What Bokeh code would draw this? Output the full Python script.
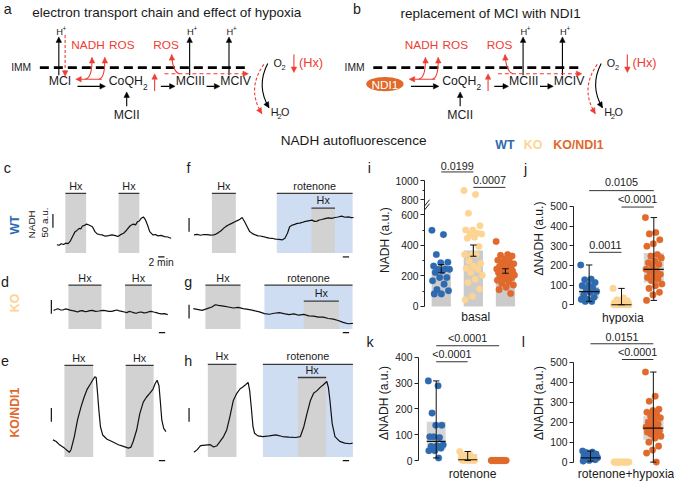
import math
import numpy as np
from bokeh.plotting import figure
from bokeh.layouts import column, row
from bokeh.models import Range1d, Arrow, NormalHead, FixedTicker
from bokeh.core.properties import value
from bokeh.embed import file_html
from bokeh.resources import INLINE

# ------------------------------------------------------------------ data
groups = ["WT", "KO", "KO/NDI1"]

# NADH autofluorescence traces: time (min) and NADH (a.u., relative to start)
c_time = [0, 0.7, 1.4, 2.1, 2.9, 3.6, 4.2, 5.0, 5.8, 6.4, 7.1, 7.6, 8.1, 8.8, 9.4, 10.2, 11.3, 12.1, 12.8, 13.6,
          14.4, 15.4, 16.5, 17.5, 18.6, 19.4, 20.1, 21.2, 22.2, 23.3, 24.3, 25.0, 25.6, 26.2, 26.7, 27.5, 28.1,
          28.8, 29.5, 30.5, 31.3, 32.1, 33.1, 34.2, 35.2, 36.3]
c_nadh = [0, -2, 3.6, 1, 5.7, 4, 11.8, 29.6, 47.5, 52, 59.3, 57, 67.9, 70, 75, 71.4, 65.4, 47.5, 39.3, 37,
          35.7, 31, 33.2, 36, 33.2, 30, 35.7, 41.4, 53.6, 68.9, 75, 72, 83.2, 86, 95, 101, 91.4, 71.4, 47.5,
          35.7, 37, 32.1, 34, 29.6, 28, 23.6]
c_hx = [[2.7, 9.3], [19.6, 26.2]]

f_time = [0, 1.0, 2.1, 3.1, 4.2, 5.2, 6.25, 7.0, 7.8, 8.6, 9.4, 10.1, 10.9, 12.0, 13.0, 14.1, 14.7, 15.3, 16.1,
          16.9, 17.7, 18.75, 19.5, 20.3, 21.1, 21.9, 22.9, 23.9, 25.0, 26.0, 27.0, 28.1, 28.9, 29.7, 30.4, 31.25,
          32.0, 32.8, 33.6, 34.4, 35.1, 35.9, 36.7, 37.5, 38.3, 39.1, 39.8, 40.6, 41.6, 42.7, 43.7, 44.8, 45.8,
          46.9, 48.0, 49.0, 50.0, 50.7]
f_nadh = [0, 2, -1.2, 1.5, 1.2, -1, 0, 3, 8.3, 15, 23.8, 30, 35.7, 41.7, 47.6, 53.6, 58, 63.1, 47.6, 29.8,
          11.9, 3.6, 0, -3.6, -4, -6, -9, -11.9, -13, -15.5, -16, -17.9, -11.9, 6, 29.8, 35.7, 38, 41.7, 43,
          45.2, 48, 50, 52, 53.6, 49, 50, 54, 56, 59, 61.9, 60, 63.1, 65, 67.9, 64, 65.5, 63, 63.1]
f_hx = [[5.7, 13.3]]
f_rot = [26.3, 50.4]
f_rot_hx = [37.3, 44.8]

d_time = [0, 0.7, 1.35, 2.1, 2.9, 3.7, 4.5, 5.2, 6.0, 6.8, 7.6, 8.4, 9.2, 10.0, 10.7, 11.5, 12.3, 13.3, 14.4,
          15.5, 16.5, 17.5, 18.5, 19.3, 20.1, 20.9, 21.7, 22.5, 23.2, 24.0, 24.8, 25.6, 26.3, 27.1, 27.9, 28.7,
          29.5, 30.3, 31.0, 31.8, 32.6, 33.4, 34.2, 35.2, 36.25]
d_nadh = [0, 3, 6, 2, 1.2, 5, 3.6, 1, -1.2, -3, -6, -2, -1.2, -5, -3.6, -1, 0, -4, -2.4, 0, -1.2, -4, -3.6,
          -1, 1.2, -2, -3.6, -6, -8.3, -4, -6, -9, -10.7, -7, -6, -9, -8.3, -5, -3.6, -6, -8.3, -11, -13.1,
          -12, -15.5]
d_hx = [[4.7, 15.2], [22.7, 31.2]]

g_time = [0, 1.25, 2.8, 4.4, 5.9, 7.0, 8.0, 9.6, 11.2, 12.7, 14.3, 15.8, 17.4, 19.0, 21.0, 22.6, 24.2, 25.7,
          27.3, 28.8, 30.4, 32.0, 33.5, 35.1, 36.7, 38.2, 39.8, 41.3, 42.9, 44.5, 46.0, 47.6, 49.2, 50.7]
g_nadh = [0, -2.4, -6, 0, 6, 14.3, 11.9, 9.5, 6, 2.4, 4.8, 0, -2.4, -6, -11.9, -17.9, -20.2, -16.7, -14.3,
          -17.9, -21.4, -19, -23.8, -21, -26.2, -27.4, -31, -31, -35.7, -38.1, -42.9, -50, -54.8, -53.6]
g_hx = [[3.85, 15.0]]
g_rot = [22.6, 50.6]
g_rot_hx = [35.1, 46.25]

e_time = [0, 1.04, 2.1, 3.65, 5.2, 5.75, 6.8, 7.8, 8.9, 9.9, 10.9, 12.0, 12.8, 13.3, 13.75, 14.2, 14.6, 15.1,
          15.8, 17.2, 18.75, 20.8, 22.4, 24.0, 24.8, 25.5, 26.6, 27.6, 28.7, 29.7, 30.75, 31.8, 32.5, 33.1,
          33.7, 34.1, 34.6, 35.2, 35.9]
e_nadh = [0, -6, -17.9, -29.8, -45.2, -35.7, 11.9, 71.4, 119, 154.8, 184.5, 204.8, 220.2, 228.6, 226.2,
          166.7, 107.1, 47.6, 17.9, 2.4, -6, -17.9, -23.8, -29.8, -26.2, -6, 35.7, 95.2, 136.9, 154.8, 169,
          184.5, 204.8, 216.7, 196.4, 142.9, 71.4, 41.7, 29.8]
e_hx = [[3.65, 12.8], [23.1, 32.0]]

h_time = [0, 1.04, 2.1, 3.6, 5.2, 6.25, 7.3, 8.3, 9.4, 10.4, 11.4, 12.5, 13.5, 14.6, 15.6, 16.4, 17.2, 17.7,
          18.2, 18.75, 19.25, 20.3, 21.9, 23.9, 26.0, 28.1, 30.2, 32.3, 33.8, 34.9, 35.9, 37.0, 38.0, 39.1,
          40.1, 41.1, 42.2, 42.7, 43.2, 43.9, 44.8, 46.3, 47.9, 49.5, 50.4]
h_nadh = [0, 9.5, 23.8, 26.2, 27.4, 19, 23.8, 39.3, 57.1, 81, 128.6, 188.1, 211.9, 229.8, 238.1, 245.2,
          253.6, 223.8, 164.3, 92.9, 69, 59.5, 57.1, 59.5, 63.1, 57.1, 54.8, 53.6, 57.1, 92.9, 140.5, 188.1,
          214.3, 223.8, 235.7, 245.2, 257.1, 235.7, 188.1, 104.8, 57.1, 39.3, 33.3, 31, 33.3]
h_hx = [[4.4, 13.5]]
h_rot = [21.9, 50.5]
h_rot_hx = [33.0, 42.0]

SCALE_AU = 50    # vertical scale bar (a.u.)
SCALE_MIN = 2    # horizontal scale bar (min)

# i: basal NADH (a.u.)
basal_wt = [499, 471, 340, 290, 286, 265, 247, 243, 243, 232, 222, 189, 189, 168, 146, 110, 103, 82, 82]
basal_ko = [895, 853, 622, 529, 501, 501, 480, 475, 475, 454, 447, 393, 340, 340, 340, 297, 282, 265, 249,
            243, 222, 204, 178, 157, 114, 67, 43]
basal_ndi1 = [426, 340, 335, 330, 310, 303, 295, 290, 280, 270, 262, 258, 250, 245, 240, 238, 232, 228, 222,
              218, 212, 205, 200, 195, 188, 180, 172, 160, 150, 140, 125, 110, 85]
basal_mean = [248, 366, 232]
basal_sem = [27, 37, 15]
basal_ticks = [0, 200, 400, 600, 800, 1000]
# broken axis: real value -> drawn position
break_real = [0, 600, 800, 1000]
break_drawn = [0, 600, 701, 824]

# j: hypoxia dNADH
hyp_wt = [202, 130, 127, 113, 100, 97, 88, 80, 67, 63, 50, 38, 27, 27, 17, 17]
hyp_ko = [83, 35, 25, 20, 15, 10, 5, 2, 0, 0, 0, 0, 0, 0, 0, 0, 0, 0]
hyp_ndi1 = [443, 367, 360, 330, 310, 297, 255, 247, 238, 222, 213, 205, 197, 180, 172, 167, 155, 143, 138,
            130, 122, 105, 97, 83, 63, 50, 22]
hyp_q1 = [33, 0, 113]
hyp_med = [67, 0, 180]
hyp_q3 = [93, 22, 263]
hyp_lo = [17, 0, 22]
hyp_hi = [202, 83, 443]

# k: rotenone dNADH
rot_wt = [309, 290, 184, 137, 137, 92, 89, 92, 61, 57, 55, 48, 38, 38, 10]
rot_ko = [35, 25, 20, 12, 8, 5, 3, 0, 0, 0, 0, 0]
rot_ndi1 = [0] * 16
rot_q1 = [42, 0, 0]
rot_med = [74, 3, 0]
rot_q3 = [150, 25, 0]
rot_lo = [10, 0, 0]
rot_hi = [309, 35, 0]

# l: rotenone + hypoxia dNADH
rh_wt = [55, 50, 48, 40, 35, 30, 28, 25, 22, 20, 15, 12, 8, 5]
rh_ko = [0] * 16
rh_ndi1 = [451, 330, 305, 265, 258, 250, 240, 230, 222, 210, 200, 190, 180, 175, 170, 165, 160, 155, 150,
           145, 140, 130, 120, 100, 80, 60, 45, 0]
rh_q1 = [10, 0, 112]
rh_med = [21, 0, 170]
rh_q3 = [38, 0, 230]
rh_lo = [5, 0, 0]
rh_hi = [55, 0, 451]

# ------------------------------------------------------------------ style
S = 0.9836
FONT = "Liberation Sans"
WT_C = "#2E6AB0"
KO_C = "#FDD491"
NDI_C = "#E0692B"
RED = "#EE3D33"
GREY = "#D2D2D2"
BLUE_BG = "#CFDDF3"
INK = "#1a1a1a"
colors = [WT_C, KO_C, NDI_C]


def fs(px):
    return f"{px * S:.1f}px"


def base_fig(w, h, xr, yr):
    p = figure(width=w, height=h, x_range=xr, y_range=yr, output_backend="svg", toolbar_location=None,
               x_axis_location=None, y_axis_location=None, min_border=0, min_border_left=0,
               min_border_right=0, min_border_top=0, min_border_bottom=0)
    for g in p.grid:
        g.visible = False
    p.outline_line_color = None
    return p


def T(p, x, y, s, size, color=INK, align="center", baseline="middle", angle=0.0, bold=False):
    p.text(x=[x], y=[y], text=[s], text_font=value(FONT), text_font_size=fs(size), text_color=color,
           text_align=align, text_baseline=baseline, angle=angle,
           text_font_style="bold" if bold else "normal")


def arrow(p, x0, y0, x1, y1, color="black", dash="solid", lw=1.1, head=5.5, alpha=1.0):
    p.add_layout(Arrow(end=NormalHead(size=head, fill_color=color, line_color=color, line_width=0.5),
                       x_start=x0, y_start=y0, x_end=x1, y_end=y1, line_color=color, line_width=lw,
                       line_dash=dash, line_alpha=alpha))


def curve_arrow(p, x0, y0, cx, cy, x1, y1, color="black", dash="solid", lw=1.1, head=5.5):
    p.quadratic(x0=[x0], y0=[y0], x1=[x1], y1=[y1], cx=[cx], cy=[cy], line_color=color, line_width=lw,
                line_dash=dash)
    ux, uy = x1 - cx, y1 - cy
    L = math.hypot(ux, uy)
    arrow(p, x1 - ux / L * 0.6, y1 - uy / L * 0.6, x1, y1, color, head=head, alpha=0.0)


# ------------------------------------------------------------------ top diagram (a, b)
W_ALL = 674
H_TOP = 152
top = base_fig(W_ALL, H_TOP, Range1d(0, W_ALL / S), Range1d(H_TOP / S, 0))


def hplus(p, x, y):
    T(p, x, y, "H", 9.5)
    T(p, x + 5, y - 3, "+", 6.5)


def chain(p, dx, ndi1):
    T(p, 21 + dx, 68, "IMM", 10.5)
    p.segment(x0=[40 + dx], x1=[253.3 + dx], y0=[68.3], y1=[68.3], line_color="black", line_width=2.8 * S,
              line_dash="9 5")
    if ndi1:
        p.ellipse(x=[390.8], y=[85], width=[38], height=[14.5], fill_color=NDI_C, line_color=None)
        T(p, 390.8, 85.5, "NDI1", 12, color="white")
    else:
        T(p, 60.5 + dx, 82, "MCI", 12.5)
        arrow(p, 59.3 + dx, 76, 59.3 + dx, 37)
        hplus(p, 60 + dx, 31.7)
        arrow(p, 65.7 + dx, 35, 65.7 + dx, 77, RED, dash="3 2")
    # NADH / ROS from the first entry site
    arrow(p, 103 + dx, 80, 76.5 + dx, 80, RED)
    curve_arrow(p, 86 + dx, 80, 93.5 + dx, 79, 93 + dx, 58, RED)
    curve_arrow(p, 100 + dx, 80, 106.5 + dx, 79, 106 + dx, 58, RED)
    T(p, 89 + dx, 45, "NADH", 12, color=RED)
    T(p, 123.3 + dx, 45, "ROS", 12, color=RED)
    # CoQH2
    arrow(p, 78.3 + dx, 87.3, 106.7 + dx, 87.3)
    T(p, 110 + dx, 82, "CoQH", 12.5, align="left")
    T(p, 147.3 + dx, 88, "2", 8.5)
    T(p, 128.3 + dx, 116.7, "MCII", 12.5)
    arrow(p, 128.3 + dx, 107.5, 128.3 + dx, 93)
    arrow(p, 156.7 + dx, 92, 156.7 + dx, 74.5, RED)
    arrow(p, 163 + dx, 87.3, 177.5 + dx, 87.3)
    # complex III / IV
    T(p, 193 + dx, 82, "MCIII", 12.5)
    arrow(p, 192.3 + dx, 76, 192.3 + dx, 37)
    hplus(p, 193 + dx, 31.7)
    arrow(p, 209.5 + dx, 87.3, 223 + dx, 87.3)
    T(p, 239 + dx, 82, "MCIV", 12.5)
    arrow(p, 232.3 + dx, 76, 232.3 + dx, 37)
    hplus(p, 233.3 + dx, 31.7)
    T(p, 168.3 + dx, 45, "ROS", 12, color=RED)
    curve_arrow(p, 182 + dx, 74.5, 175 + dx, 72.5, 174 + dx, 55, RED)
    arrow(p, 166.7 + dx, 74.5, 252 + dx, 74.5, RED, dash="4 3")
    # oxygen
    T(p, 281.7 + dx, 63.3, "O", 11)
    T(p, 287.8 + dx, 68.5, "2", 7.5)
    arrow(p, 298.3 + dx, 55, 298.3 + dx, 73.3, RED)
    T(p, 315.7 + dx, 63.3, "(Hx)", 13, color=RED)
    curve_arrow(p, 271.7 + dx, 64, 259.7 + dx, 87, 273 + dx, 109)
    curve_arrow(p, 267.7 + dx, 65, 250 + dx, 90, 265.7 + dx, 115, RED, dash="3 2")
    T(p, 278.7 + dx, 113.3, "H", 11)
    T(p, 283.8 + dx, 117.5, "2", 7.5)
    T(p, 289.5 + dx, 113.3, "O", 11)


T(top, 3.3, 8.3, "a", 14.5, align="left", baseline="alphabetic")
T(top, 169, 12.7, "electron transport chain and effect of hypoxia", 13.75)
chain(top, 0, False)
T(top, 358.3, 8.3, "b", 14.5, align="left", baseline="alphabetic")
T(top, 498.3, 13, "replacement of MCI with NDI1", 13.75)
chain(top, 339, True)
T(top, 359, 142.7, "NADH autofluorescence", 13.8)
T(top, 503, 146.7, groups[0], 12.6, color=WT_C, align="left", bold=True)
T(top, 532, 146.7, groups[1], 12.6, color=KO_C, align="left", bold=True)
T(top, 562, 146.7, groups[2], 12.6, color=NDI_C, align="left", bold=True)

# ------------------------------------------------------------------ traces c-h
PX_MIN = 3.2    # reference px per minute
PX_AU = 0.28    # reference px per a.u.


def trace_panel(w, h, x0r, y0r, ox, oy):
    x1r = x0r + w / S
    y1r = y0r + h / S
    p = base_fig(w, h, Range1d((x0r - ox) / PX_MIN, (x1r - ox) / PX_MIN),
                 Range1d((oy - y1r) / PX_AU, (oy - y0r) / PX_AU))
    return p, (lambda xr: (xr - ox) / PX_MIN), (lambda yr: (oy - yr) / PX_AU)


BAR_C = "#3a3a3a"


def draw_trace(p, cx, cy, time, nadh, hx, box_top, box_bot, hx_ty, vbar,
               rot=None, rot_hx=None, rot_ty=None, in_top=None, in_ty=None):
    top_ = cy(box_top)
    bot_ = cy(box_bot)
    for a, b in hx:
        p.quad(left=[a], right=[b], bottom=[bot_], top=[top_], fill_color=GREY, line_color=None)
        p.segment(x0=[a], x1=[b], y0=[top_], y1=[top_], line_color=BAR_C, line_width=1.3)
        T(p, (a + b) / 2, cy(hx_ty), "Hx", 11)
    if rot is not None:
        p.quad(left=[rot[0]], right=[rot[1]], bottom=[bot_], top=[top_], fill_color=BLUE_BG, line_color=None)
        p.segment(x0=[rot[0]], x1=[rot[1]], y0=[top_], y1=[top_], line_color=BAR_C, line_width=1.3)
        T(p, (rot[0] + rot[1]) / 2, cy(rot_ty), "rotenone", 11)
        it = cy(in_top)
        p.quad(left=[rot_hx[0]], right=[rot_hx[1]], bottom=[bot_], top=[it], fill_color=GREY, line_color=None)
        p.segment(x0=[rot_hx[0]], x1=[rot_hx[1]], y0=[it], y1=[it], line_color=BAR_C, line_width=1.3)
        T(p, (rot_hx[0] + rot_hx[1]) / 2, cy(in_ty), "Hx", 11)
    p.line(time, nadh, line_color="#111111", line_width=1.2)
    vx, vy = vbar
    p.segment(x0=[cx(vx)], x1=[cx(vx)], y0=[cy(vy)], y1=[cy(vy) + SCALE_AU], line_color="#111", line_width=1.2)


def time_bar(p, cx, cy, hx0, hy):
    p.segment(x0=[cx(hx0)], x1=[cx(hx0) + SCALE_MIN], y0=[cy(hy)], y1=[cy(hy)], line_color="#111",
              line_width=1.2)


WC1, WC2 = 183, 191
HR1, HR2 = 115, 62
HR3 = 481 - H_TOP - HR1 - HR2
Y1 = H_TOP / S
Y2 = Y1 + HR1 / S
Y3 = Y2 + HR2 / S
X2 = WC1 / S

pc, cxc, cyc = trace_panel(WC1, HR1, 0, Y1, 57.3, 248.3)
draw_trace(pc, cxc, cyc, c_time, c_nadh, c_hx, 196, 256.7, 188.3, (53.3, 231))
time_bar(pc, cxc, cyc, 160.3, 260.7)
T(pc, cxc(3.3), cyc(170), "c", 14.5, align="left", baseline="alphabetic")
T(pc, cxc(15), cyc(228.3), groups[0], 12.5, color=WT_C, angle=math.pi / 2, bold=True)
T(pc, cxc(31.7), cyc(227.5), "NADH", 10, angle=math.pi / 2)
T(pc, cxc(45), cyc(225.8), "50 a.u.", 10, angle=math.pi / 2)
T(pc, cxc(163.3), cyc(266), "2 min", 10.5)

pf, cxf, cyf = trace_panel(WC2, HR1, X2, Y1, 196.7, 238.3)
draw_trace(pf, cxf, cyf, f_time, f_nadh, f_hx, 196, 256.7, 188.3, (191.7, 235),
           rot=f_rot, rot_hx=f_rot_hx, rot_ty=188.3, in_top=211, in_ty=202.7)
time_bar(pf, cxf, cyf, 348, 260.7)
T(pf, cxf(189), cyf(170), "f", 14.5, align="left", baseline="alphabetic")
T(pf, cxf(373.3), cyf(170), "i", 14.5, align="left", baseline="alphabetic")

pd, cxd, cyd = trace_panel(WC1, HR2, 0, Y2, 54, 315)
draw_trace(pd, cxd, cyd, d_time, d_nadh, d_hx, 289.3, 334.3, 281.7, (51.7, 318.5))
T(pd, cxd(0.5), cyd(286.7), "d", 14.5, align="left", baseline="alphabetic")
T(pd, cxd(15), cyd(307.5), groups[1], 12.5, color=KO_C, angle=math.pi / 2, bold=True)

pg, cxg, cyg = trace_panel(WC2, HR2, X2, Y2, 196, 313.3)
draw_trace(pg, cxg, cyg, g_time, g_nadh, g_hx, 289.3, 334.3, 281.7, (191.7, 323.3),
           rot=g_rot, rot_hx=g_rot_hx, rot_ty=281.7, in_top=305.7, in_ty=297.7)
T(pg, cxg(186.7), cyg(286.7), "g", 14.5, align="left", baseline="alphabetic")

pe, cxe, cye = trace_panel(WC1, HR3, 0, Y3, 53.3, 446.7)
draw_trace(pe, cxe, cye, e_time, e_nadh, e_hx, 371, 464, 363.3, (51.7, 428.3))
time_bar(pe, cxe, cye, 161, 337.7)   # time bar belonging to panel d (sits just below its row)
time_bar(pe, cxe, cye, 161, 467.7)
T(pe, cxe(0.5), cye(366.7), "e", 14.5, align="left", baseline="alphabetic")
T(pe, cxe(15), cye(419), groups[2], 12.5, color=NDI_C, angle=math.pi / 2, bold=True)

ph, cxh, cyh = trace_panel(WC2, HR3, X2, Y3, 196.7, 459.3)
draw_trace(ph, cxh, cyh, h_time, h_nadh, h_hx, 370, 464, 361.7, (191.7, 428.3),
           rot=h_rot, rot_hx=h_rot_hx, rot_ty=361.7, in_top=383.3, in_ty=376)
time_bar(ph, cxh, cyh, 348, 337.7)   # time bar belonging to panel g
time_bar(ph, cxh, cyh, 348, 467.7)
T(ph, cxh(186.7), cyh(366.7), "h", 14.5, align="left", baseline="alphabetic")
T(ph, cxh(372), cyh(347.5), "k", 14.5, align="left", baseline="alphabetic")

# ------------------------------------------------------------------ stats i-l
WI = 155
WJ = W_ALL - WC1 - WC2 - WI
HI = 172
HK = 481 - H_TOP - HI
XI = (WC1 + WC2) / S
XJ = XI + WI / S
YK = Y1 + HI / S


def stat_panel(w, h, x0r, y0r, axis_x, c0, dc, zero_y, ppu, ticks, bounds, label, minor=None, overrides=None):
    lb = round((axis_x - x0r) * S)
    frame_w = w - lb
    xs = (axis_x - c0) / dc
    xe = xs + frame_w / S / dc
    y1r = y0r + h / S
    p = figure(width=w, height=h, x_range=Range1d(xs, xe),
               y_range=Range1d((zero_y - y1r) / ppu, (zero_y - y0r) / ppu),
               output_backend="svg", toolbar_location=None, x_axis_location=None, y_axis_location="left",
               min_border=0, min_border_left=lb, min_border_right=0, min_border_top=0, min_border_bottom=0)
    for g in p.grid:
        g.visible = False
    p.outline_line_color = None
    ax = p.yaxis[0]
    ax.ticker = FixedTicker(ticks=ticks, minor_ticks=minor or [])
    if overrides:
        ax.major_label_overrides = overrides
    ax.bounds = bounds
    ax.axis_label = label
    ax.axis_label_text_font = FONT
    ax.axis_label_text_font_style = "normal"
    ax.axis_label_text_font_size = fs(12.3)
    ax.axis_label_text_color = INK
    ax.axis_label_standoff = 1
    ax.major_label_text_font = FONT
    ax.major_label_text_font_size = fs(10.5)
    ax.major_label_text_color = INK
    ax.major_label_standoff = 2
    ax.major_tick_out = 4
    ax.major_tick_in = 0
    ax.minor_tick_out = 2
    ax.minor_tick_in = 0
    ax.axis_line_color = "#222"
    ax.major_tick_line_color = "#222"
    ax.minor_tick_line_color = "#222"
    return p, (lambda xr: (xr - c0) / dc), (lambda yr: (zero_y - yr) / ppu)


def dots(p, vals, half, tf=lambda v: v):
    for k, vs in enumerate(vals):
        n = len(vs)
        xs = [k + half * (((j * 0.618034) % 1.0) * 2 - 1) for j in range(n)]
        p.scatter(x=xs, y=[tf(v) for v in vs], size=6.6, fill_color=colors[k], line_color=colors[k],
                  line_width=0.3)


def box_fill(p, q1, q3, half):
    for k in range(3):
        if q3[k] > q1[k]:
            p.quad(left=[k - half], right=[k + half], bottom=[q1[k]], top=[q3[k]], fill_color="#D6D6D6",
                   line_color=None)


def box_lines(p, med, lo, hi, half, cap=0.1):
    for k in range(3):
        if hi[k] > lo[k]:
            p.segment(x0=[k], x1=[k], y0=[lo[k]], y1=[hi[k]], line_color="#111", line_width=1)
            p.segment(x0=[k - cap, k - cap], x1=[k + cap, k + cap], y0=[lo[k], hi[k]], y1=[lo[k], hi[k]],
                      line_color="#111", line_width=1)
            p.segment(x0=[k - half], x1=[k + half], y0=[med[k]], y1=[med[k]], line_color="#111", line_width=1.2)


def sig(p, cy, g0, g1, y_line, y_text, text):
    p.segment(x0=[g0], x1=[g1], y0=[cy(y_line)], y1=[cy(y_line)], line_color="#333", line_width=1)
    T(p, (g0 + g1) / 2, cy(y_text), text, 11)


# i: basal (broken axis)
def brk(v):
    return float(np.interp(v, break_real, break_drawn))


pi_, cxi, cyi = stat_panel(WI, HI, XI, Y1, 425, 443, 34.5, 311, 0.155,
                           [brk(t) for t in basal_ticks], (0, brk(1000)), "NADH  (a.u.)",
                           minor=[100, 300, 500, brk(900)],
                           overrides={brk(t): str(t) for t in basal_ticks})
pi_.vbar(x=[0, 1, 2], top=basal_mean, width=0.6, fill_color="#CBCBCB", line_color=None)
dots(pi_, [basal_wt, basal_ko, basal_ndi1], 0.29, brk)
for k in range(3):
    lo_, hi_ = basal_mean[k] - basal_sem[k], basal_mean[k] + basal_sem[k]
    pi_.segment(x0=[k], x1=[k], y0=[lo_], y1=[hi_], line_color="#111", line_width=1.1)
    pi_.segment(x0=[k - 0.1, k - 0.1], x1=[k + 0.1, k + 0.1], y0=[lo_, hi_], y1=[lo_, hi_], line_color="#111",
                line_width=1.1)
sig(pi_, cyi, 0, 1, 174.3, 168, "0.0199")
sig(pi_, cyi, 1, 2, 190, 182.3, "0.0007")
T(pi_, cxi(480), cyi(321.7), "basal", 12.3)
# axis break marks
pi_.segment(x0=[cxi(425), cxi(425)], x1=[cxi(430.5), cxi(430.5)], y0=[cyi(213), cyi(209)],
            y1=[cyi(206.5), cyi(202.5)], line_color="#222", line_width=1)
T(pi_, cxi(532), cyi(171.7), "j", 14.5, align="left", baseline="alphabetic")

# j: hypoxia
pj, cxj, cyj = stat_panel(WJ, HI, XJ, Y1, 577.3, 594, 34.5, 309.3, 0.2, [0, 100, 200, 300, 400, 500],
                          (0, 500), "ΔNADH (a.u.)")
box_fill(pj, hyp_q1, hyp_q3, 0.31)
dots(pj, [hyp_wt, hyp_ko, hyp_ndi1], 0.26)
box_lines(pj, hyp_med, hyp_lo, hyp_hi, 0.31)
sig(pj, cyj, 0, 2, 193.3, 185, "0.0105")
sig(pj, cyj, 1, 2, 210, 202.3, "<0.0001")
sig(pj, cyj, 0, 1, 256, 248.3, "0.0011")
T(pj, cxj(630), cyj(322.7), "hypoxia", 12.3)

# k: rotenone
pk, cxk, cyk = stat_panel(WI, HK, XI, YK, 425, 443, 32, 467.7, 0.262, [0, 100, 200, 300, 400],
                          (0, 400), "ΔNADH (a.u.)")
box_fill(pk, rot_q1, rot_q3, 0.3)
dots(pk, [rot_wt, rot_ko, rot_ndi1], 0.25)
box_lines(pk, rot_med, rot_lo, rot_hi, 0.3)
sig(pk, cyk, 0, 2, 351, 343.3, "<0.0001")
sig(pk, cyk, 0, 1, 367.3, 359, "<0.0001")
T(pk, cxk(480), cyk(481.7), "rotenone", 12.3)
T(pk, cxk(530), cyk(347.5), "l", 14.5, align="left", baseline="alphabetic")

# l: rotenone + hypoxia
pl, cxl, cyl = stat_panel(WJ, HK, XJ, YK, 576.7, 595, 33.85, 469.3, 0.203, [0, 100, 200, 300, 400, 500],
                          (0, 500), "ΔNADH (a.u.)")
box_fill(pl, rh_q1, rh_q3, 0.32)
dots(pl, [rh_wt, rh_ko, rh_ndi1], 0.25)
box_lines(pl, rh_med, rh_lo, rh_hi, 0.32)
sig(pl, cyl, 0, 2, 349, 341.7, "0.0151")
sig(pl, cyl, 1, 2, 365, 357.3, "<0.0001")
T(pl, cxl(633.3), cyl(481.7), "rotenone+hypoxia", 12.3)

# ------------------------------------------------------------------ layout
left = column(row(pc, pf), row(pd, pg), row(pe, ph))
right = column(row(pi_, pj), row(pk, pl))
layout = column(top, row(left, right))

open("out.html", "w").write(file_html(layout, INLINE))
